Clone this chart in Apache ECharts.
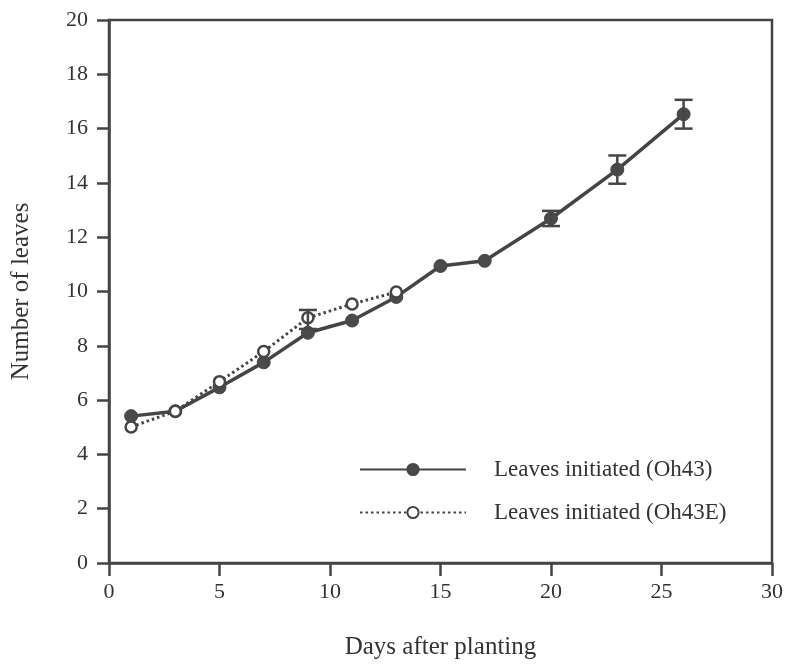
<!DOCTYPE html>
<html>
<head>
<meta charset="utf-8">
<script src="https://cdn.jsdelivr.net/npm/echarts@6/dist/echarts.min.js"></script>
<style>
  html, body { margin: 0; padding: 0; background: #fff; }
  #chart { width: 787px; height: 665px; }
</style>
</head>
<body>
<div id="chart"></div>
<script>
// Leaf counts over time for two maize lines
const daysOh43 = [1, 3, 5, 7, 9, 11, 13, 15, 17, 20, 23, 26];
const leavesOh43 = [5.41, 5.59, 6.47, 7.39, 8.48, 8.93, 9.8, 10.94, 11.13, 12.69, 14.49, 16.53];

const daysOh43E = [1, 3, 5, 7, 9, 11, 13];
const leavesOh43E = [5.01, 5.59, 6.68, 7.79, 9.03, 9.54, 9.98];

// Standard errors where shown: day, mean, error
const errDaysOh43 = [20, 23, 26];
const errMeanOh43 = [12.69, 14.49, 16.53];
const errSizeOh43 = [0.28, 0.52, 0.53];
const errDaysOh43E = [9];
const errMeanOh43E = [8.97];
const errSizeOh43E = [0.35];

const xTicks = [0, 5, 10, 15, 20, 25, 30];
const yTicks = [0, 2, 4, 6, 8, 10, 12, 14, 16, 18, 20];

const ink = '#454545';
const textInk = '#333';
const serif = '"Liberation Serif", "Times New Roman", serif';

const pairs = (xs, ys) => xs.map((x, i) => [x, ys[i]]);
const triples = (xs, ys, es) => xs.map((x, i) => [x, ys[i], es[i]]);

function errorBar(params, api) {
  const x = api.value(0), y = api.value(1), e = api.value(2);
  const hi = api.coord([x, y + e]);
  const lo = api.coord([x, y - e]);
  const half = 9;
  const style = { stroke: ink, lineWidth: 2.5 };
  return {
    type: 'group',
    children: [
      { type: 'line', shape: { x1: hi[0], y1: hi[1], x2: lo[0], y2: lo[1] }, style },
      { type: 'line', shape: { x1: hi[0] - half, y1: hi[1], x2: hi[0] + half, y2: hi[1] }, style },
      { type: 'line', shape: { x1: lo[0] - half, y1: lo[1], x2: lo[0] + half, y2: lo[1] }, style }
    ]
  };
}

const chart = echarts.init(document.getElementById('chart'), null, { renderer: 'canvas' });
chart.setOption({
  animation: false,
  backgroundColor: '#fff',
  textStyle: { fontFamily: serif },
  grid: {
    left: 109, top: 20, right: 15, bottom: 98,
    show: true, borderColor: ink, borderWidth: 2.5, backgroundColor: 'transparent'
  },
  legend: {
    orient: 'vertical',
    left: 354,
    top: 453,
    itemWidth: 106,
    itemHeight: 14,
    itemGap: 20,
    textStyle: { fontFamily: serif, fontSize: 23, color: textInk, padding: [0, 0, 0, 23] },
    data: ['Leaves initiated (Oh43)', 'Leaves initiated (Oh43E)']
  },
  xAxis: {
    type: 'value',
    min: xTicks[0],
    max: xTicks[xTicks.length - 1],
    interval: 5,
    name: 'Days after planting',
    nameLocation: 'middle',
    nameGap: 72,
    nameTextStyle: { fontFamily: serif, fontSize: 25, color: textInk },
    axisLine: { onZero: false, lineStyle: { color: ink, width: 2.5 } },
    axisTick: { show: true, inside: false, length: 13, lineStyle: { color: ink, width: 2.5 } },
    axisLabel: { margin: 18, fontFamily: serif, fontSize: 22, color: textInk },
    splitLine: { show: false }
  },
  yAxis: {
    type: 'value',
    min: yTicks[0],
    max: yTicks[yTicks.length - 1],
    interval: 2,
    name: 'Number of leaves',
    nameLocation: 'middle',
    nameGap: 75,
    nameTextStyle: { fontFamily: serif, fontSize: 25, color: textInk },
    axisLine: { onZero: false, lineStyle: { color: ink, width: 2.5 } },
    axisTick: { show: true, inside: false, length: 12, lineStyle: { color: ink, width: 2.5 } },
    axisLabel: { margin: 21, fontFamily: serif, fontSize: 22, color: textInk },
    splitLine: { show: false }
  },
  series: [
    {
      name: 'Leaves initiated (Oh43E)',
      type: 'line',
      data: pairs(daysOh43E, leavesOh43E),
      symbol: 'circle',
      symbolSize: 11,
      lineStyle: { color: ink, width: 3, type: [2.5, 3] },
      itemStyle: { color: '#fff', borderColor: ink, borderWidth: 2.5 },
      z: 3
    },
    {
      name: 'Leaves initiated (Oh43)',
      type: 'line',
      data: pairs(daysOh43, leavesOh43),
      symbol: 'circle',
      symbolSize: 13,
      lineStyle: { color: ink, width: 3.5 },
      itemStyle: { color: '#4a4a4a', borderColor: ink, borderWidth: 1 },
      z: 2
    },
    {
      type: 'custom',
      renderItem: errorBar,
      data: triples(errDaysOh43, errMeanOh43, errSizeOh43),
      z: 4
    },
    {
      type: 'custom',
      renderItem: errorBar,
      data: triples(errDaysOh43E, errMeanOh43E, errSizeOh43E),
      z: 4
    }
  ]
});
</script>
</body>
</html>
